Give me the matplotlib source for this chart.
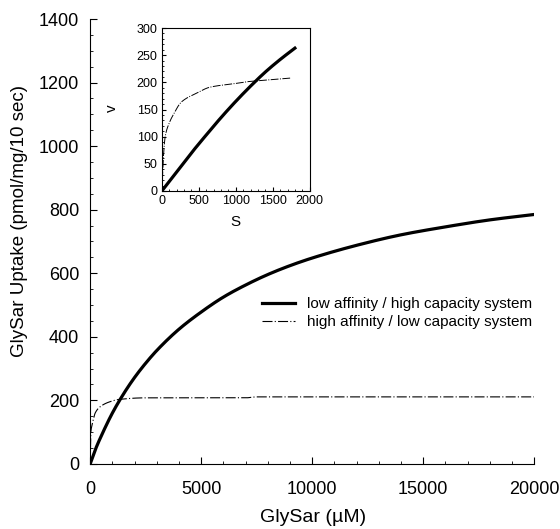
import numpy as np
import matplotlib
matplotlib.use('Agg')
import matplotlib.pyplot as plt
from matplotlib.ticker import MultipleLocator

plt.rcParams['font.family'] = ['Liberation Sans', 'DejaVu Sans']

# main panel: values
low_s = [0, 250, 500, 1000, 1500, 2000, 2500, 3000, 4000, 5000, 6000, 7000,
         8000, 9000, 10000, 12000, 14000, 16000, 18000, 20000]
low_v = [0, 48, 88, 160, 220, 272, 317, 357, 424, 478, 525, 563,
         596, 624, 648, 688, 721, 746, 768, 785]
high_s = [0, 30, 76, 150, 225, 450, 900, 1300, 2500, 5000, 7000, 7500, 10000, 15000, 20000]
high_v = [0, 100, 120, 142, 160, 180, 196, 203, 208, 208, 208, 211, 211, 211, 211]

# inset panel
in_low_s = [0, 200, 400, 600, 800, 1000, 1200, 1400, 1600, 1800]
in_low_v = [0, 35, 70, 103, 135, 165, 193, 219, 242, 263]
in_high_s = [0, 20, 45, 100, 153, 266, 469, 649, 1000, 1144, 1500, 1752]
in_high_v = [0, 60, 100, 125, 140, 164, 180, 191, 198, 201, 205, 208]

labels = ['low affinity / high capacity system', 'high affinity / low capacity system']


def smooth(xs, ys, n=400):
    # monotone piecewise-cubic through read points
    xs = np.asarray(xs, float)
    ys = np.asarray(ys, float)
    h = np.diff(xs)
    d = np.diff(ys) / h
    m = np.zeros_like(ys)
    m[0], m[-1] = d[0], d[-1]
    for i in range(1, len(xs) - 1):
        if d[i - 1] * d[i] <= 0:
            m[i] = 0
        else:
            w1 = 2 * h[i] + h[i - 1]
            w2 = h[i] + 2 * h[i - 1]
            m[i] = (w1 + w2) / (w1 / d[i - 1] + w2 / d[i])
    xx = np.linspace(xs[0], xs[-1], n)
    k = np.clip(np.searchsorted(xs, xx) - 1, 0, len(xs) - 2)
    t = (xx - xs[k]) / h[k]
    h00 = 2 * t**3 - 3 * t**2 + 1
    h10 = t**3 - 2 * t**2 + t
    h01 = -2 * t**3 + 3 * t**2
    h11 = t**3 - t**2
    yy = h00 * ys[k] + h10 * h[k] * m[k] + h01 * ys[k + 1] + h11 * h[k] * m[k + 1]
    return xx, yy


fig = plt.figure(figsize=(5.6, 5.29), dpi=100)
ax = fig.add_axes([0.161, 0.123, 0.793, 0.841])

x, y = smooth(low_s, low_v, 800)
ax.plot(x, y, color='black', lw=2.3, label=labels[0])
x, y = smooth(high_s, high_v, 2000)
ax.plot(x, y, color='black', lw=0.8, dashes=(9, 2, 1, 2), label=labels[1])

ax.set_xlim(0, 20000)
ax.set_ylim(0, 1400)
ax.xaxis.set_major_locator(MultipleLocator(5000))
ax.xaxis.set_minor_locator(MultipleLocator(1000))
ax.yaxis.set_major_locator(MultipleLocator(200))
ax.yaxis.set_minor_locator(MultipleLocator(50))
ax.tick_params(which='both', direction='in', labelsize=13)
ax.tick_params(axis='y', pad=8)
ax.tick_params(axis='x', pad=12)
ax.tick_params(which='major', length=5)
ax.tick_params(which='minor', length=2.5)
for s in ['top', 'right']:
    ax.spines[s].set_visible(False)
ax.set_xlabel('GlySar (\u00b5M)', fontsize=14)
ax.xaxis.set_label_coords(0.502, -0.102)
ax.set_ylabel('GlySar Uptake (pmol/mg/10 sec)', fontsize=13.5)
ax.yaxis.set_label_coords(-0.14, 0.546)
ax.legend(loc='center left', bbox_to_anchor=(0.387, 0.339), frameon=False,
          fontsize=11, handlelength=2.15, labelspacing=0.25, handletextpad=0.8,
          borderpad=0, borderaxespad=0)

ins = fig.add_axes([0.289, 0.639, 0.264, 0.308])
x, y = smooth(in_low_s, in_low_v)
ins.plot(x, y, color='black', lw=2.3)
x, y = smooth(in_high_s, in_high_v, 800)
ins.plot(x, y, color='black', lw=0.7, dashes=(8, 1.5, 1, 1.5))
ins.set_xlim(0, 2000)
ins.set_ylim(0, 300)
ins.xaxis.set_major_locator(MultipleLocator(500))
ins.xaxis.set_minor_locator(MultipleLocator(100))
ins.yaxis.set_major_locator(MultipleLocator(50))
ins.yaxis.set_minor_locator(MultipleLocator(10))
ins.tick_params(which='both', direction='in', labelsize=9, pad=3)
ins.tick_params(which='major', length=3)
ins.tick_params(which='minor', length=1.5)
ins.set_xlabel('S', fontsize=11)
ins.xaxis.set_label_coords(0.5, -0.15)
ins.set_ylabel('v', fontsize=11)
ins.yaxis.set_label_coords(-0.29, 0.51)

fig.savefig('out.png', dpi=100, facecolor='white')
